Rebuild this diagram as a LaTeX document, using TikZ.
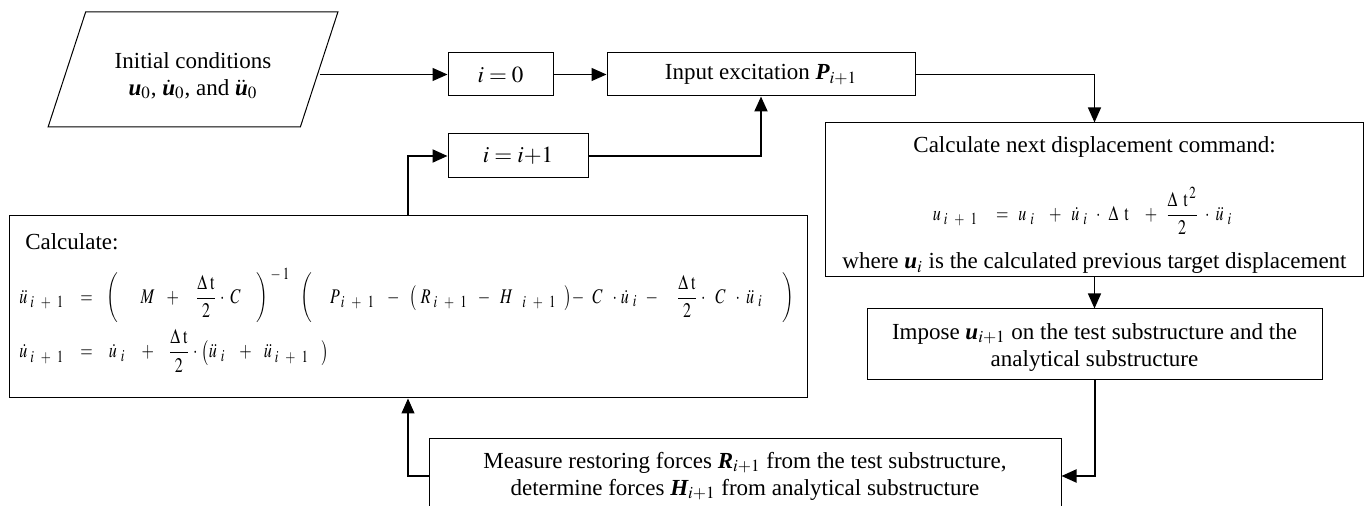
\documentclass[tikz,border=0pt]{standalone}
\usepackage{amsmath}
\usepackage{mathptmx}
\usepackage{fontspec}
\setmainfont{Liberation Serif}
\usetikzlibrary{shapes.geometric, arrows.meta, positioning}

% bold italic vectors and spaced equation pieces
\newcommand{\bvec}[1]{\mbox{\normalfont\bfseries\itshape #1}}
\newcommand{\gp}[1]{\hspace{#1pt}}
\newcommand{\subip}{\gp{1.5}i\gp{3.5}{+}\gp{3}1}
\newcommand{\subi}{\gp{2}i}
\newcommand{\tallp}[1]{\left#1\vcenter{\hbox{\rule{0pt}{17pt}}}\right.}
\newcommand{\eqfont}{\fontsize{8}{10}\selectfont}
\newcommand{\eqn}[1]{\scalebox{1}[1.3]{\eqfont$#1$}}
\DeclareMathSizes{8}{8}{6.5}{5}

\begin{document}
\begin{tikzpicture}[x=0.5pt, y=-0.5pt,
  font=\fontsize{11.5}{13.5}\selectfont,
  blk/.style={draw, line width=0.5pt, inner sep=0pt, align=center},
  flow/.style={draw, line width=0.6pt, -{Triangle[length=7.5pt,width=6.5pt]}},
  heavy/.style={flow, line width=1pt}]
\useasboundingbox (0,0) rectangle (1366,506);

% top row
\node[blk, trapezium, trapezium left angle=65, trapezium right angle=115,
  trapezium stretches=true, minimum width=145pt, minimum height=57.5pt]
  (init) at (193,69.5) {\rule{0pt}{14pt}Initial conditions\\ $\bvec{u}_0$, $\dot{\bvec{u}}_0$, and $\ddot{\bvec{u}}_0$};
\node[blk, minimum width=52.5pt, minimum height=21.5pt] (i0) at (500.5,74.5) {$i = 0$};
\node[blk, minimum width=154pt, minimum height=21.5pt] (input) at (761,74.5) {Input excitation $\bvec{P}_{i+1}$};
\node[blk, minimum width=70pt, minimum height=22pt] (inc) at (518,156) {$i = i{+}1$};

% right column
\node[blk, minimum width=269pt, minimum height=77pt] (next) at (1094.5,200) {%
  \begin{tabular}{@{}c@{}}
  \rule{0pt}{14.5pt}Calculate next displacement command:\\
  \rule{0pt}{30pt}\eqn{u_{\subip}\gp{9}{=}\gp{5}u_{\subi}\gp{7}{+}\gp{5}\dot{u}_{\subi}\gp{4}{\cdot}\gp{4}\Delta\gp{3}\mathrm{t}\gp{8}{+}\gp{4}\dfrac{\Delta\gp{3}\mathrm{t}^{\,2}}{2}\gp{3}{\cdot}\gp{3}\ddot{u}_{\subi}\gp{12}}\\
  \rule{0pt}{17pt}where $\bvec{u}_i$ is the calculated previous target displacement
  \end{tabular}};
\node[blk, minimum width=227.5pt, minimum height=35.5pt] (impose) at (1094.5,344.5)
  {\rule{0pt}{11pt}Impose $\bvec{u}_{i+1}$ on the test substructure and the\\ analytical substructure};

% left and bottom
\node[blk, minimum width=399pt, minimum height=91pt] (calc) at (408,307) {%
  \begin{tabular}{@{}l@{}}
  \gp{3}Calculate:\\
  \rule{0pt}{23pt}\eqn{\ddot{u}_{\subip}\gp{8}{=}\gp{6}\tallp(\gp{9}M\gp{6}{+}\gp{8}\dfrac{\Delta\gp{1.5}\mathrm{t}}{2}\gp{1.5}{\cdot}\gp{3}C\gp{7}\tallp)^{-\gp{1}1}\gp{4}\tallp(\gp{7}P_{\subip}\gp{6}{-}\gp{5}\bigl(\gp{2}R_{\subip}\gp{5}{-}\gp{5}H_{\gp{4}\subip}\gp{4}\bigr){-}\gp{4}C\gp{5}{\cdot}\gp{2}\dot{u}_{\subi}\gp{4}{-}\gp{9}\dfrac{\Delta\gp{1.5}\mathrm{t}}{2}\gp{1.5}{\cdot}\gp{5}C\gp{5}{\cdot}\gp{3}\ddot{u}_{\subi}\gp{9}\tallp)}\\
  \rule[-13pt]{0pt}{30.5pt}\eqn{\dot{u}_{\subip}\gp{8}{=}\gp{8}\dot{u}_{\subi}\gp{8}{+}\gp{7}\dfrac{\Delta\gp{1.5}\mathrm{t}}{2}\gp{1.5}{\cdot}\gp{2}\bigl(\ddot{u}_{\subi}\gp{7}{+}\gp{6}\ddot{u}_{\subip}\gp{6}\bigr)}
  \end{tabular}};
\node[blk, minimum width=316pt, minimum height=37pt] (measure) at (745,476)
  {Measure restoring forces $\bvec{R}_{i+1}$ from the test substructure,\\
   determine forces $\bvec{H}_{i+1}$ from analytical substructure};

% connectors
\draw[flow] (init.east |- i0.west) -- (i0.west);
\draw[flow] (i0) -- (input);
\draw[flow] (input) -| (next);
\draw[flow] (next) -- (impose);
\draw[heavy] (impose) |- (measure);
\draw[flow] (measure) -| (calc);
\draw[heavy] (calc) |- (inc);
\draw[heavy] (inc) -| (input);
\end{tikzpicture}
\end{document}
